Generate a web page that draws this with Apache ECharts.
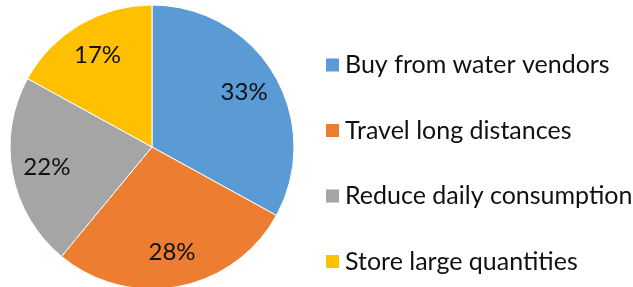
<!DOCTYPE html>
<html>
<head>
<meta charset="utf-8">
<script src="https://cdn.jsdelivr.net/npm/echarts@6/dist/echarts.min.js"></script>
<style>
	html, body { margin: 0; padding: 0; background: #fff; }
	#main { width: 633px; height: 287px; }
</style>
</head>
<body>
<div id="main"></div>
<script>
	var categories = ['Buy from water vendors', 'Travel long distances', 'Reduce daily consumption', 'Store large quantities'];
	var values = [33, 28, 22, 17];
	var colors = ['#5B9BD5', '#ED7D31', '#A5A5A5', '#FFC000'];
	var fontName = 'Lato';

	var pieData = categories.map(function(c, i) {
		return { name: c, value: values[i], itemStyle: { color: colors[i] } };
	});
	// transparent copy, only used to put the % labels further out
	var labelData = categories.map(function(c, i) {
		return { name: c, value: values[i] };
	});

	var myChart = echarts.init(document.getElementById('main'));
	var options = {
		animation: false,
		legend: {
			orient: 'vertical',
			left: 319,
			top: 47,
			itemWidth: 15,
			itemHeight: 15,
			itemGap: 39.5,
			icon: 'rect',
			data: categories,
			textStyle: {
				fontFamily: fontName,
				fontSize: 25,
				lineHeight: 26,
				color: '#111'
			}
		},
		series: [{
			type: 'pie',
			center: [152, 147],
			radius: [0, 142],
			startAngle: 90,
			silent: true,
			itemStyle: { borderColor: '#fff', borderWidth: 1 },
			label: { show: false },
			labelLine: { show: false },
			data: pieData
		}, {
			type: 'pie',
			center: [152, 147],
			radius: [0, 208],
			startAngle: 90,
			silent: true,
			itemStyle: { color: 'rgba(0,0,0,0)' },
			label: {
				show: true,
				position: 'inside',
				formatter: '{c}%',
				fontFamily: fontName,
				fontSize: 24,
				color: '#111'
			},
			labelLine: { show: false },
			data: labelData
		}]
	};
	myChart.setOption(options);
</script>
</body>
</html>
